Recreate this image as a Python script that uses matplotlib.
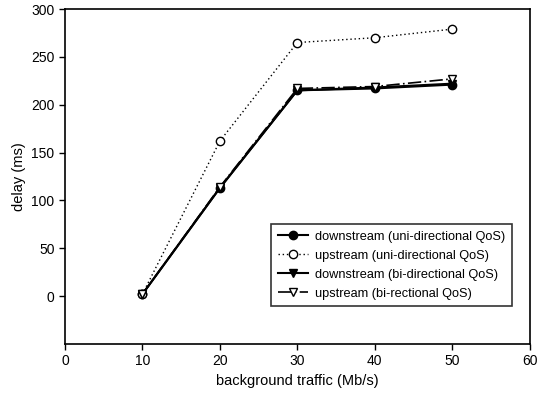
import matplotlib
matplotlib.use("Agg")
import matplotlib.pyplot as plt

plt.rcParams['font.family'] = ['Liberation Sans', 'DejaVu Sans']

x = [10, 20, 30, 40, 50]
down_uni = [2, 113, 215, 217, 221]
up_uni = [2, 162, 265, 270, 279]
down_bi = [2, 113, 215, 218, 222]
up_bi = [2, 114, 217, 219, 227]

labels = ["downstream (uni-directional QoS)", "upstream (uni-directional QoS)",
          "downstream (bi-directional QoS)", "upstream (bi-rectional QoS)"]

fig = plt.figure(figsize=(5.39, 3.93), dpi=100)
ax = fig.add_axes([0.1206, 0.125, 0.862, 0.852])

ax.plot(x, down_uni, color='black', lw=1.5, marker='o', ms=6, mfc='black', mec='black', label=labels[0])
ax.plot(x, up_uni, color='black', lw=1.0, ls=(0, (1, 2)), marker='o', ms=6, mfc='white', mec='black', label=labels[1])
ax.plot(x, down_bi, color='black', lw=1.5, marker='v', ms=6, mfc='black', mec='black', label=labels[2])
ax.plot(x, up_bi, color='black', lw=1.2, ls=(0, (8, 2, 1, 2)), marker='v', ms=6, mfc='white', mec='black', label=labels[3])

ax.set_xlim(0, 60)
ax.set_ylim(-50, 300)
ax.set_xticks(range(0, 61, 10))
ax.set_yticks(range(0, 301, 50))
ax.tick_params(direction='out', labelsize=10, length=4, width=1)
for s in ax.spines.values():
    s.set_linewidth(1.2)
ax.set_xlabel("background traffic (Mb/s)", fontsize=10.5)
ax.set_ylabel("delay (ms)", fontsize=10.5)

leg = ax.legend(loc='lower right', bbox_to_anchor=(0.961, 0.113), borderaxespad=0,
                fontsize=9.2, frameon=True,
                fancybox=False, edgecolor='black', handlelength=2.4, borderpad=0.5,
                labelspacing=0.55, handletextpad=0.5)
leg.get_frame().set_linewidth(1.2)

fig.savefig("out.png", dpi=100)
